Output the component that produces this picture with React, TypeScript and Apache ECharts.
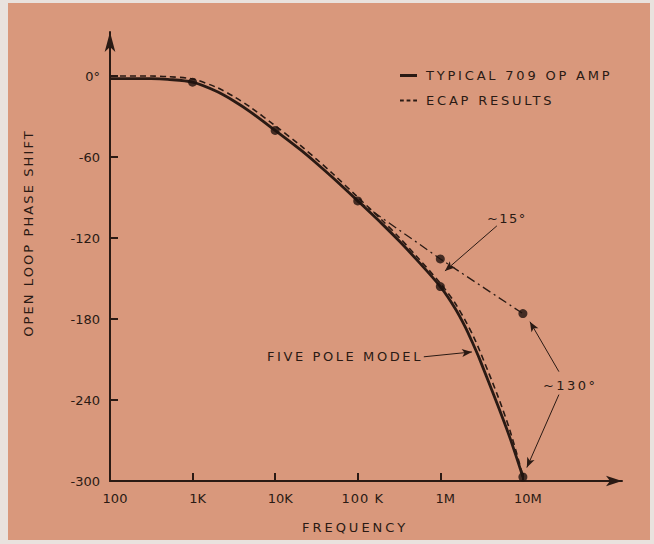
import { useEffect, useRef } from "react";
import * as echarts from "echarts";

// ---- data (frequency in Hz, phase in degrees) ----
const freqHz = [100, 316, 500, 1e3, 2e3, 3.16e3, 5e3, 1e4, 2e4, 3.16e4, 5e4, 1e5, 2e5, 3.16e5, 5e5, 1e6, 1.5e6, 2e6, 2.5e6, 3e6, 5e6, 7e6, 1e7];
const typical709 = [-2, -2, -2.5, -4.6, -11.7, -18.5, -26.5, -40.3, -54.4, -64.6, -75.4, -92.5, -109.9, -122.1, -135.1, -156, -171.8, -185.8, -198.7, -209.9, -244.5, -268.4, -297];
const ecapResults = [0, 0, -0.5, -2.2, -8.7, -15.2, -23, -36.8, -51.2, -61.6, -72.4, -89.8, -107.2, -119.4, -132.6, -153.5, -168, -181, -192.5, -203.5, -237.5, -263, -296];
const altFreqHz = [1e5, 1e6, 1e7];
const altPhase = [-92.5, -135.5, -176];
const dotFreqHz = [1e3, 1e4, 1e5, 1e6, 1e7, 1e6, 1e7];
const dotPhase = [-4.6, -40.3, -92.5, -156, -297, -135.5, -176];
const xTickDecades = [2, 3, 4, 5, 6, 7];
const xTickLabels = ["100", "1K", "10K", "100 K", "1M", "10M"];
const yTicks = [-300, -240, -180, -120, -60, 0];

const INK = "#2a1a14";
const FONT = "DejaVu Sans";

const spacing: Record<string, string> = {
  "TYPICAL 709 OP AMP": "2.8px",
  "ECAP RESULTS": "2.8px",
  "FIVE POLE MODEL": "2.6px",
  "~15°": "1.5px",
  "~130°": "2.5px",
  "FREQUENCY": "3px",
  "OPEN LOOP PHASE SHIFT": "2.1px",
  "100 K": "1px",
};

export default function App() {
  const ref = useRef<HTMLDivElement>(null);
  useEffect(() => {
    if (!ref.current) return;
    const chart = echarts.init(ref.current, null, { renderer: "svg" });
    const lg = (f: number) => Math.log10(f);
    const pair = (xs: number[], ys: number[]) => xs.map((f, i) => [lg(f), ys[i]]);

    const arrows = [
      [[6.685, -111], [6.056, -144.4]],
      [[7.436, -219], [7.085, -182]],
      [[7.436, -236], [7.048, -290]],
      [[5.8, -208], [6.383, -204.4]],
    ];
    const notes: [number, number, string][] = [
      [6.564, -105.2, "~15°"],
      [7.242, -229.6, "~130°"],
      [3.9, -208.1, "FIVE POLE MODEL"],
    ];

    chart.setOption({
      animation: false,
      backgroundColor: "#d9987c",
      textStyle: { fontFamily: FONT, color: INK },
      grid: { left: 102, right: 28, top: 29, bottom: 59 },
      legend: {
        left: 387,
        top: 61,
        orient: "vertical",
        itemWidth: 17,
        itemHeight: 3,
        itemGap: 12,
        data: [
          { name: "TYPICAL 709 OP AMP", icon: "rect" },
          { name: "ECAP RESULTS", icon: "path://M0,0h4v2h-4z M7,0h4v2h-4z M14,0h4v2h-4z" },
        ],
        textStyle: { fontFamily: FONT, fontSize: 13, color: INK, padding: [0, 0, 0, 4] },
        selectedMode: false,
      },
      xAxis: {
        type: "value",
        min: 2,
        max: 8.2,
        interval: 1,
        axisLine: { onZero: false, lineStyle: { color: INK, width: 2 }, symbol: ["none", "arrow"], symbolSize: [8, 16] },
        axisTick: { inside: true, length: 8, lineStyle: { color: INK, width: 2 }, customValues: xTickDecades },
        axisLabel: {
          customValues: xTickDecades,
          formatter: (v: number) => xTickLabels[Math.round(v) - 2] ?? "",
          fontSize: 13,
          color: INK,
          fontFamily: FONT,
          margin: 11,
          padding: [0, 0, 0, 10],
        },
        splitLine: { show: false },
      },
      yAxis: {
        type: "value",
        min: -300,
        max: 32.6,
        interval: 60,
        axisLine: { show: true, onZero: false, lineStyle: { color: INK, width: 2 }, symbol: ["none", "arrow"], symbolSize: [8, 20] },
        axisTick: { show: true, inside: true, length: 8, lineStyle: { color: INK, width: 2 }, customValues: yTicks },
        axisLabel: {
          customValues: yTicks,
          formatter: (v: number) => (v === 0 ? "0°" : String(v)),
          fontSize: 13,
          color: INK,
          fontFamily: FONT,
          margin: 10,
        },
        splitLine: { show: false },
      },
      graphic: [
        {
          type: "text",
          x: 20,
          y: 230,
          rotation: Math.PI / 2,
          style: { text: "OPEN LOOP PHASE SHIFT", fill: INK, font: `13px "${FONT}"`, align: "center", verticalAlign: "middle" },
        },
        {
          type: "text",
          x: 347,
          y: 524,
          style: { text: "FREQUENCY", fill: INK, font: `13px "${FONT}"`, align: "center", verticalAlign: "middle" },
        },
      ],
      series: [
        {
          name: "TYPICAL 709 OP AMP",
          type: "line",
          data: pair(freqHz, typical709),
          showSymbol: false,
          symbol: "none",
          smooth: 0.3,
          lineStyle: { color: INK, width: 2.8 },
          itemStyle: { color: INK },
          z: 3,
        },
        {
          name: "ECAP RESULTS",
          type: "line",
          data: pair(freqHz, ecapResults),
          showSymbol: false,
          symbol: "none",
          smooth: 0.3,
          lineStyle: { color: INK, width: 1.6, type: [6, 4] },
          itemStyle: { color: INK },
          z: 2,
        },
        {
          name: "alt",
          type: "line",
          data: pair(altFreqHz, altPhase),
          showSymbol: false,
          symbol: "none",
          lineStyle: { color: INK, width: 1.3, type: [9, 4, 2, 4] },
          z: 2,
          silent: true,
        },
        {
          name: "annotations",
          type: "line",
          data: [],
          silent: true,
          itemStyle: { color: INK },
          markLine: {
            silent: true,
            symbol: ["none", "arrow"],
            symbolSize: [6, 10],
            label: { show: false },
            itemStyle: { color: INK },
            lineStyle: { color: INK, width: 1, type: "solid" },
            emphasis: { disabled: true },
            data: arrows.map(([a, b]) => [{ coord: a }, { coord: b }]),
          },
          markPoint: {
            silent: true,
            symbol: "circle",
            symbolSize: 0,
            data: notes.map(([x, y, t]) => ({
              coord: [x, y],
              label: { show: true, position: "right", distance: 0, formatter: t, fontSize: 13, color: INK, fontFamily: FONT },
            })),
          },
        },
        {
          name: "points",
          type: "scatter",
          data: pair(dotFreqHz, dotPhase),
          symbolSize: 9,
          itemStyle: { color: "#1e120e" },
          z: 5,
          silent: true,
        },
      ],
    });

    const applySpacing = () => {
      const root = ref.current;
      if (!root) return;
      root.querySelectorAll("text").forEach((t) => {
        const s = (t.textContent || "").trim();
        if (spacing[s]) (t as SVGTextElement).style.letterSpacing = spacing[s];
      });
    };
    applySpacing();
    chart.on("finished", applySpacing);
    const timer = setTimeout(applySpacing, 50);

    return () => {
      clearTimeout(timer);
      chart.dispose();
    };
  }, []);

  return (
    <div style={{ position: "absolute", left: 0, top: 0, width: 654, height: 544, background: "#e9e2de" }}>
      <div ref={ref} style={{ position: "absolute", left: 8, top: 3, width: 642, height: 537 }} />
    </div>
  );
}
